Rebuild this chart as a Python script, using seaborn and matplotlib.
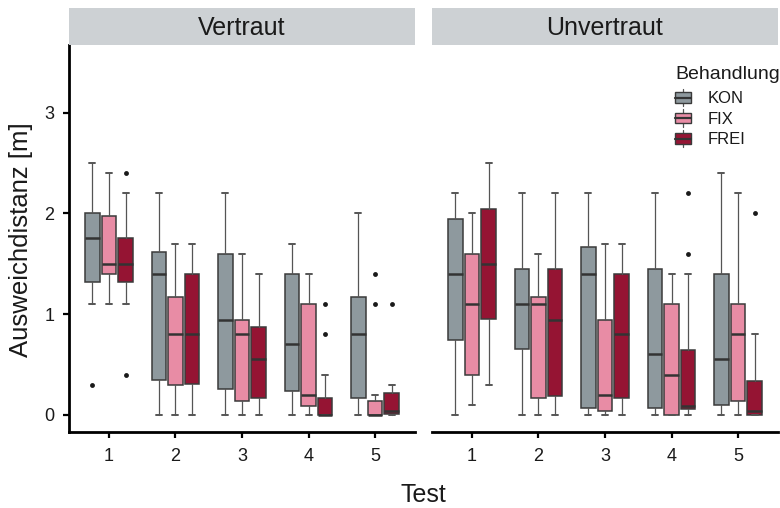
import matplotlib
matplotlib.use("Agg")
import matplotlib.pyplot as plt
from matplotlib.patches import Patch, Rectangle
from matplotlib.lines import Line2D
from matplotlib.legend_handler import HandlerBase
import seaborn as sns

# ---- data: box statistics per test (rows) and treatment (columns) ----
tests = ["1", "2", "3", "4", "5"]
treatments = ["KON", "FIX", "FREI"]
panels = ["Vertraut", "Unvertraut"]

# Vertraut
v_low = [[1.1, 1.1, 1.1], [0, 0, 0], [0, 0, 0], [0, 0, 0], [0, 0, 0]]
v_q1 = [[1.32, 1.40, 1.32], [0.35, 0.30, 0.31], [0.26, 0.14, 0.17], [0.24, 0.09, 0.0], [0.17, 0.0, 0.01]]
v_med = [[1.75, 1.50, 1.50], [1.40, 0.80, 0.80], [0.94, 0.80, 0.55], [0.70, 0.20, 0.0], [0.80, 0.0, 0.04]]
v_q3 = [[2.0, 1.97, 1.75], [1.62, 1.17, 1.40], [1.60, 0.94, 0.87], [1.40, 1.10, 0.17], [1.17, 0.14, 0.22]]
v_high = [[2.5, 2.4, 2.2], [2.2, 1.7, 1.7], [2.2, 1.6, 1.4], [1.7, 1.4, 0.4], [2.0, 0.2, 0.3]]
v_out = [[[0.3], [], [2.4, 0.4]], [[], [], []], [[], [], []], [[], [], [1.1, 0.8]], [[], [1.4, 1.1], [1.1]]]

# Unvertraut
u_low = [[0, 0.1, 0.3], [0, 0, 0], [0, 0, 0], [0, 0, 0], [0, 0, 0]]
u_q1 = [[0.74, 0.40, 0.95], [0.65, 0.17, 0.19], [0.07, 0.04, 0.17], [0.07, 0.0, 0.06], [0.10, 0.14, 0.0]]
u_med = [[1.40, 1.10, 1.50], [1.10, 1.10, 0.94], [1.40, 0.20, 0.80], [0.60, 0.40, 0.09], [0.55, 0.80, 0.04]]
u_q3 = [[1.94, 1.60, 2.04], [1.45, 1.17, 1.45], [1.67, 0.94, 1.40], [1.45, 1.10, 0.64], [1.40, 1.10, 0.34]]
u_high = [[2.2, 2.0, 2.5], [2.2, 1.6, 2.2], [2.2, 1.7, 1.7], [2.2, 1.4, 1.4], [2.4, 2.2, 0.8]]
u_out = [[[], [], []], [[], [], []], [[], [], []], [[], [], [1.6, 2.2]], [[], [], [2.0]]]

fill_colors = ["#8e999e", "#e88ca5", "#951433"]

# ---- styling ----
sns.set_theme(style="ticks")
plt.rcParams["font.family"] = ["Liberation Sans", "DejaVu Sans"]
palette = sns.color_palette(fill_colors)

EDGE = "#3a3a3a"
WHISK = "#555555"
TEXT = "#1a1a1a"
STRIP = "#cdd1d4"

W, H = 780, 508
fig = plt.figure(figsize=(W / 100, H / 100), dpi=100)

def frac_rect(x0, y0, x1, y1):
    return [x0 / W, 1 - y1 / H, (x1 - x0) / W, (y1 - y0) / H]

ax_l = fig.add_axes(frac_rect(69, 45, 415, 432))
ax_r = fig.add_axes(frac_rect(432, 45, 778, 432), sharey=ax_l)

dodge = 0.25
box_w = 0.22


def draw_panel(ax, low, q1, med, q3, high, out):
    for ti in range(len(tests)):
        for hi in range(len(treatments)):
            stats = [dict(whislo=low[ti][hi], q1=q1[ti][hi], med=med[ti][hi],
                          q3=q3[ti][hi], whishi=high[ti][hi], fliers=out[ti][hi])]
            pos = ti + 1 + (hi - 1) * dodge
            ax.bxp(stats, positions=[pos], widths=box_w, capwidths=0.09,
                   patch_artist=True, manage_ticks=False,
                   boxprops=dict(facecolor=palette[hi], edgecolor=EDGE, linewidth=1.1),
                   medianprops=dict(color="#333333", linewidth=1.8),
                   whiskerprops=dict(color=WHISK, linewidth=0.9),
                   capprops=dict(color=WHISK, linewidth=1.4),
                   flierprops=dict(marker="o", markersize=3.5, markerfacecolor="#1a1a1a",
                                   markeredgecolor="none"))


draw_panel(ax_l, v_low, v_q1, v_med, v_q3, v_high, v_out)
draw_panel(ax_r, u_low, u_q1, u_med, u_q3, u_high, u_out)

for ax in (ax_l, ax_r):
    ax.set_xlim(0.4, 5.6)
    ax.set_ylim(-0.17, 3.67)
    ax.set_xticks(range(1, len(tests) + 1))
    ax.set_xticklabels(tests)
    ax.set_yticks([0, 1, 2, 3])
    ax.set_facecolor("white")
    for s in ("top", "right"):
        ax.spines[s].set_visible(False)
    ax.spines["bottom"].set_linewidth(2.0)
    ax.spines["bottom"].set_color("black")
    ax.tick_params(axis="both", length=4.5, width=1.6, color="black",
                   labelsize=13, labelcolor=TEXT)
    ax.tick_params(axis="x", pad=7)
    ax.tick_params(axis="y", pad=6)

ax_l.spines["left"].set_linewidth(2.0)
ax_l.spines["left"].set_color("black")
ax_r.spines["left"].set_visible(False)
ax_r.tick_params(axis="y", left=False, labelleft=False)

# facet strips
for (x0, x1), name in zip([(69, 415), (432, 778)], panels):
    sax = fig.add_axes(frac_rect(x0, 8, x1, 45))
    sax.set_facecolor(STRIP)
    sax.set_xticks([])
    sax.set_yticks([])
    for s in sax.spines.values():
        s.set_visible(False)
    sax.text(0.5, 0.47, name, ha="center", va="center", fontsize=18,
             color=TEXT, transform=sax.transAxes)

# axis titles
fig.text(423.5 / W, 1 - 495 / H, "Test", ha="center", va="center", fontsize=18, color=TEXT)
fig.text(21 / W, 1 - 240 / H, "Ausweichdistanz [m]", ha="center", va="center",
         rotation=90, fontsize=18.5, color=TEXT)


# legend keys drawn as small box glyphs
class BoxKey(HandlerBase):
    def create_artists(self, legend, orig_handle, xdescent, ydescent, width, height,
                       fontsize, trans):
        face = orig_handle.get_facecolor()
        x0, y0 = -xdescent, -ydescent
        cx = x0 + width / 2
        whisk = Line2D([cx, cx], [y0 - 0.15 * height, y0 + 1.15 * height],
                       color=WHISK, linewidth=0.9, transform=trans)
        rect = Rectangle((x0, y0 + 0.1 * height), width, 0.8 * height,
                         facecolor=face, edgecolor=EDGE, linewidth=1.0, transform=trans)
        med = Line2D([x0, x0 + width], [y0 + 0.5 * height] * 2, color="#333333",
                     linewidth=1.6, transform=trans)
        return [whisk, rect, med]


handles = [Patch(facecolor=palette[i], label=t) for i, t in enumerate(treatments)]
leg = fig.legend(handles=handles, title="Behandlung", loc="upper left",
                 bbox_to_anchor=(675 / W, 1 - 66 / H), frameon=False,
                 fontsize=12, title_fontsize=14, handler_map={Patch: BoxKey()},
                 handlelength=0.95, handleheight=0.85, handletextpad=1.0,
                 labelspacing=0.3, borderaxespad=0, borderpad=0)
leg._legend_box.align = "left"
# a little more room between the title and the first entry
leg._legend_box.sep = 0.3 * 12 + 2.2
for t in leg.get_texts():
    t.set_color(TEXT)
leg.get_title().set_color(TEXT)

fig.savefig("out.png", dpi=100)
